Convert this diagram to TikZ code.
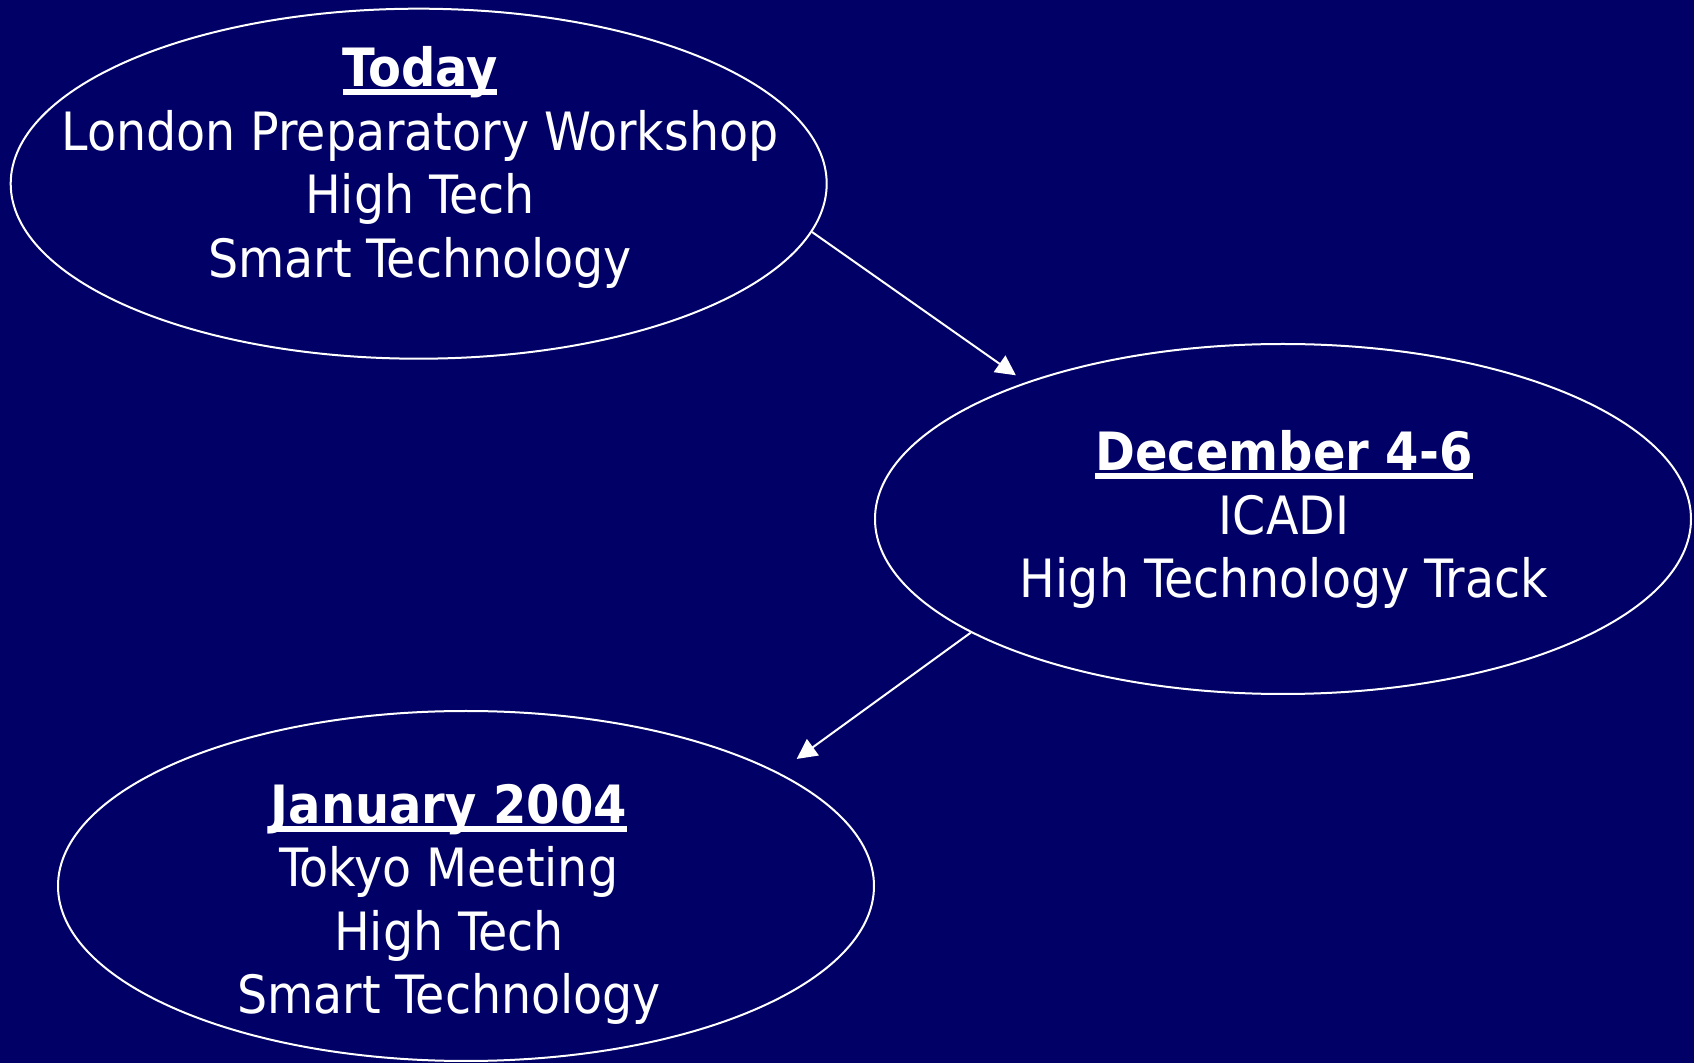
\documentclass[tikz,border=0pt]{standalone}
\usepackage{fontspec}
\setmainfont{DejaVu Sans Condensed}[BoldFeatures={FakeStretch=1.01}]
\usepackage{tikz}
\usetikzlibrary{shapes.geometric,arrows.meta}

\definecolor{navy}{HTML}{000066}
% thick underline for the dates
\newcommand\hdl[1]{\setbox0\hbox{#1}\rlap{\vrule height -1.4pt depth 4.3pt width \wd0}\box0}

\begin{document}
\begin{tikzpicture}[x=0.5pt,y=-0.5pt,
  >={Triangle[length=10pt,width=10pt]},
  event/.style={ellipse,draw=white,line width=1pt,minimum width=408pt,
    minimum height=175pt,inner sep=0pt},
  txt/.style={anchor=north,align=center,inner sep=0pt,text=white,
    font=\fontsize{26.4}{31.75}\selectfont}]
% background
\fill[navy] (0,0) rectangle (1694,1063);
\useasboundingbox (0,0) rectangle (1694,1063);
% the three meetings
\node[event] (today) at (418.7,183.7) {};
\node[event] (icadi) at (1283,519) {};
\node[event] (tokyo) at (466,886) {};
% their texts
\node[txt] (todaytxt) at (420,46) {\hdl{\textbf{Today}}\\London Preparatory Workshop\\High Tech\\Smart Technology};
\node[txt] (icaditxt) at (1284,430) {\hdl{\textbf{December 4-6}}\\ICADI\\High Technology Track};
\node[txt] (tokyotxt) at (449,783.5) {\hdl{\textbf{January 2004}}\\Tokyo Meeting\\High Tech\\Smart Technology};
% arrows
\draw[->,white,line width=1pt,shorten >=6pt] (today.-7) -- (icadi.152);
\draw[->,white,line width=1pt,shorten >=11.4pt] (icadi.200) -- (tokyo.20);
\end{tikzpicture}
\end{document}
